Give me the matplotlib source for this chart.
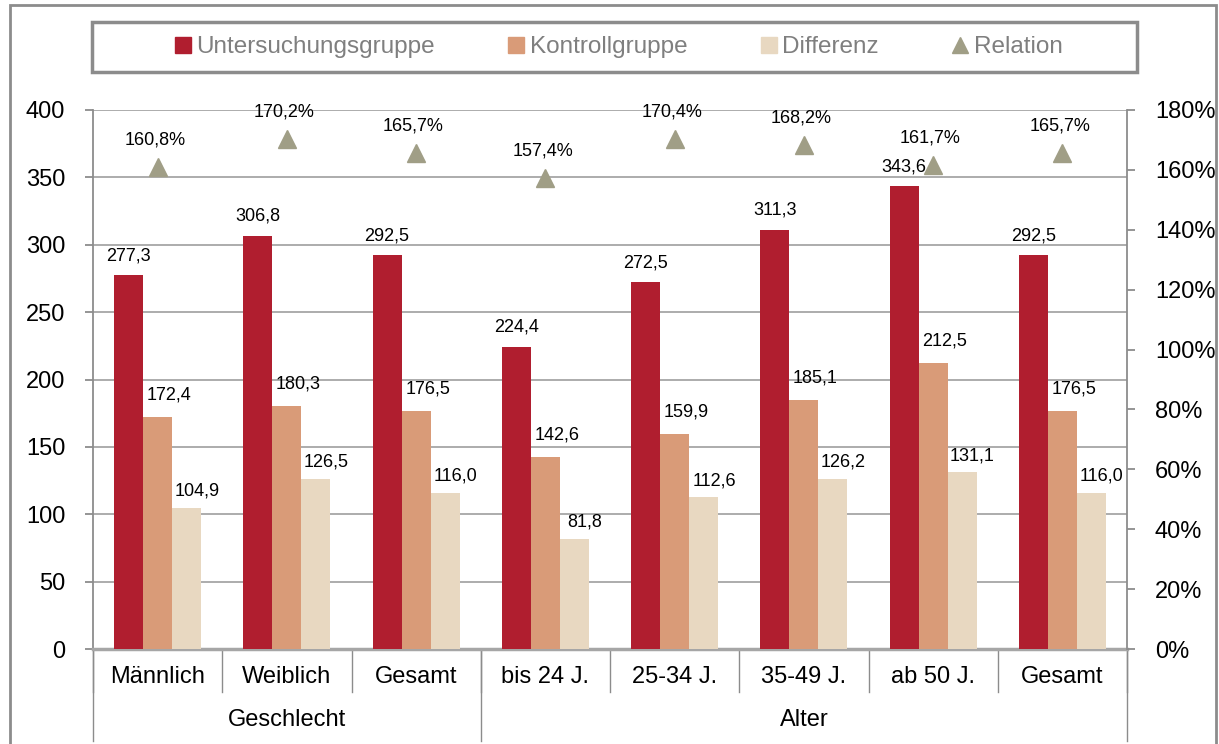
import numpy as np
import matplotlib.pyplot as plt
import matplotlib.transforms as mtrans
from matplotlib.patches import Rectangle
from matplotlib.lines import Line2D
from matplotlib.ticker import FuncFormatter

plt.rcParams['font.family'] = ['Liberation Sans', 'DejaVu Sans']

kategorien = ['Männlich', 'Weiblich', 'Gesamt', 'bis 24 J.', '25-34 J.', '35-49 J.', 'ab 50 J.', 'Gesamt']
gruppen = ['Geschlecht', 'Alter']
gruppen_grenzen = [0, 3, 8]
untersuchung = [277.3, 306.8, 292.5, 224.4, 272.5, 311.3, 343.6, 292.5]
kontrolle = [172.4, 180.3, 176.5, 142.6, 159.9, 185.1, 212.5, 176.5]
differenz = [104.9, 126.5, 116.0, 81.8, 112.6, 126.2, 131.1, 116.0]
relation = [160.8, 170.2, 165.7, 157.4, 170.4, 168.2, 161.7, 165.7]

c_unt = '#B01E2F'
c_kon = '#D99B78'
c_dif = '#E8D8C1'
c_rel = '#A09E86'
grau = '#8C8C8C'


def de(v, pct=False):
    s = ('%.1f' % v).replace('.', ',')
    return s + '%' if pct else s


fig = plt.figure(figsize=(12.19, 7.44), dpi=100)
ax = fig.add_axes([93 / 1219, 1 - 649 / 744, (1127 - 93) / 1219, (649 - 110) / 744])
ax2 = ax.twinx()

x = np.arange(len(kategorien))
w = 0.225
ax.bar(x - w, untersuchung, w, color=c_unt, zorder=3)
ax.bar(x, kontrolle, w, color=c_kon, zorder=3)
ax.bar(x + w, differenz, w, color=c_dif, zorder=3)

for i in range(len(x)):
    ax.text(x[i] - w, untersuchung[i] + 8, de(untersuchung[i]), ha='center', va='bottom', fontsize=13)
    ax.text(x[i] + 0.09, kontrolle[i] + 10, de(kontrolle[i]), ha='center', va='bottom', fontsize=13)
    ax.text(x[i] + w + 0.08, differenz[i] + 6, de(differenz[i]), ha='center', va='bottom', fontsize=13)

ax2.plot(x, np.array(relation) / 100, linestyle='none', marker='^', markersize=13, color=c_rel, zorder=4)
for i in range(len(x)):
    ax2.text(x[i] - 0.02, relation[i] / 100 + 0.062, de(relation[i], True), ha='center', va='bottom', fontsize=13)

ax.set_xlim(-0.5, len(kategorien) - 0.5)
ax.set_ylim(0, 400)
ax.set_yticks(range(0, 401, 50))
ax2.set_ylim(0, 1.8)
ax2.set_yticks(np.arange(0, 1.81, 0.2))
ax2.yaxis.set_major_formatter(FuncFormatter(lambda v, p: '%d%%' % round(v * 100)))

ax.grid(axis='y', color='#A6A6A6', linewidth=1.3, zorder=0)
ax.set_axisbelow(True)
ax.set_xticks([])
for a in (ax, ax2):
    for s in a.spines.values():
        s.set_color(grau)
    a.spines['top'].set_visible(False)
    a.tick_params(axis='y', colors=grau, labelcolor='black', labelsize=17, length=6, width=1.3, pad=14)
ax.spines['left'].set_linewidth(1.3)
ax2.spines['right'].set_linewidth(1.3)
ax.spines['bottom'].set_linewidth(2.5)
ax.spines['bottom'].set_color('#A6A6A6')
ax2.spines['bottom'].set_visible(False)
ax2.spines['left'].set_visible(False)
ax.spines['right'].set_visible(False)

# Achsenbeschriftung mit Trennlinien
trans = mtrans.blended_transform_factory(ax.transData, ax.transAxes)
for b in np.arange(-0.5, len(kategorien), 1):
    ax.plot([b, b], [0, -0.08], color=grau, linewidth=1, transform=trans, clip_on=False)
for b in gruppen_grenzen:
    ax.plot([b - 0.5, b - 0.5], [0, -0.17], color=grau, linewidth=1, transform=trans, clip_on=False)
for i, k in enumerate(kategorien):
    ax.text(i, -0.052, k, ha='center', va='center', fontsize=17, transform=trans)
for g, a, b in zip(gruppen, gruppen_grenzen[:-1], gruppen_grenzen[1:]):
    ax.text((a + b - 1) / 2, -0.132, g, ha='center', va='center', fontsize=17, transform=trans)

# Legende
handles = [Line2D([], [], linestyle='none', marker='s', markersize=11, color=c_unt),
           Line2D([], [], linestyle='none', marker='s', markersize=11, color=c_kon),
           Line2D([], [], linestyle='none', marker='s', markersize=11, color=c_dif),
           Line2D([], [], linestyle='none', marker='^', markersize=12, color=c_rel)]
leg = fig.legend(handles, ['Untersuchungsgruppe', 'Kontrollgruppe', 'Differenz', 'Relation'],
                 loc='center', bbox_to_anchor=(616 / 1219, 1 - 47 / 744), ncol=4, frameon=False,
                 fontsize=17.5, handletextpad=0.0, columnspacing=2.8, handlelength=1.1)
for t in leg.get_texts():
    t.set_color('#7F7F7F')
fig.patches.append(Rectangle((92 / 1219, 1 - 72 / 744), (1137 - 92) / 1219, 50 / 744,
                             transform=fig.transFigure, fill=False, edgecolor=grau, linewidth=2.5))
fig.patches.append(Rectangle((10 / 1219, -0.02), (1216 - 10) / 1219, 1.02 - 5 / 744,
                             transform=fig.transFigure, fill=False, edgecolor=grau, linewidth=2))

fig.savefig('out.png', dpi=100)
